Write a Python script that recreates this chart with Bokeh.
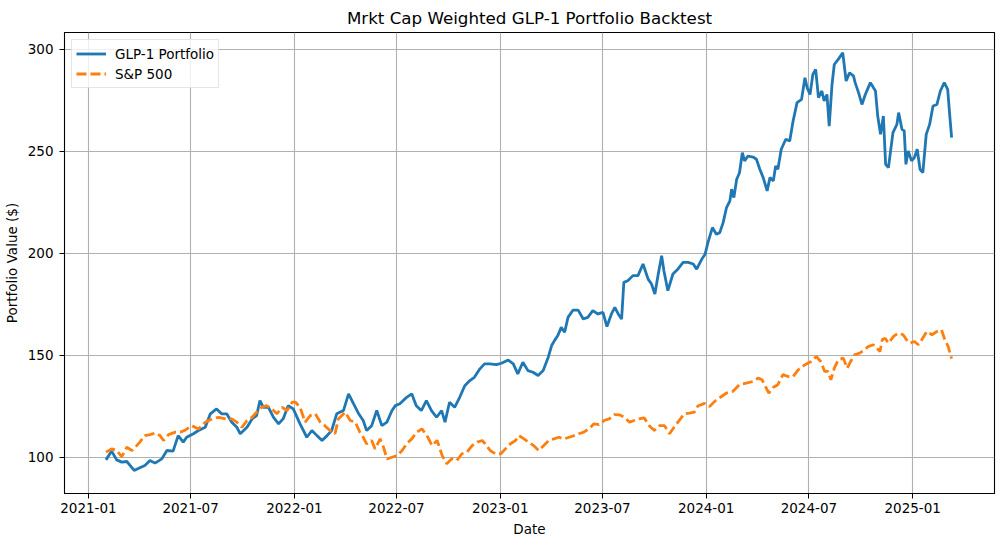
import pandas as pd
from bokeh.plotting import figure
from bokeh.models import Range1d, FixedTicker, ColumnDataSource
from bokeh.embed import file_html
from bokeh.resources import INLINE

# ---------------- data ----------------
glp1_dates = [
    "2021-02-01", "2021-02-11", "2021-02-20", "2021-03-01", "2021-03-10", "2021-03-16", "2021-03-23",
    "2021-04-02", "2021-04-11", "2021-04-20", "2021-04-29", "2021-05-11", "2021-05-20", "2021-05-31",
    "2021-06-09", "2021-06-18", "2021-06-24", "2021-07-06", "2021-07-15", "2021-07-27", "2021-08-05",
    "2021-08-16", "2021-08-25", "2021-09-03", "2021-09-12", "2021-09-21", "2021-09-27", "2021-10-09",
    "2021-10-18", "2021-10-26", "2021-11-01", "2021-11-07", "2021-11-16", "2021-11-25", "2021-12-04",
    "2021-12-12", "2021-12-21", "2021-12-30",
    "2022-01-11", "2022-01-23", "2022-02-01", "2022-02-10", "2022-02-19", "2022-02-28", "2022-03-08",
    "2022-03-17", "2022-03-29", "2022-04-07", "2022-04-16", "2022-04-25", "2022-05-03", "2022-05-09",
    "2022-05-18", "2022-05-27", "2022-06-05", "2022-06-14", "2022-06-23", "2022-06-29", "2022-07-07",
    "2022-07-19", "2022-07-28", "2022-08-05", "2022-08-14", "2022-08-23", "2022-09-01", "2022-09-10",
    "2022-09-19", "2022-09-25", "2022-10-03", "2022-10-12", "2022-10-21", "2022-10-30", "2022-11-08",
    "2022-11-16", "2022-11-25", "2022-12-04", "2022-12-13", "2022-12-25",
    "2023-01-03", "2023-01-15", "2023-01-24", "2023-02-01", "2023-02-10", "2023-02-19", "2023-02-28",
    "2023-03-09", "2023-03-18", "2023-03-27", "2023-04-02", "2023-04-07", "2023-04-13", "2023-04-19",
    "2023-04-25", "2023-05-01", "2023-05-10", "2023-05-19", "2023-05-28", "2023-06-05", "2023-06-14",
    "2023-06-23", "2023-07-02", "2023-07-09", "2023-07-17", "2023-07-23", "2023-07-29", "2023-08-04",
    "2023-08-08", "2023-08-15", "2023-08-24", "2023-09-02", "2023-09-11", "2023-09-20", "2023-09-26",
    "2023-10-02", "2023-10-08", "2023-10-14", "2023-10-18", "2023-10-25", "2023-11-03", "2023-11-12",
    "2023-11-21", "2023-11-30", "2023-12-09", "2023-12-15", "2023-12-24", "2023-12-30",
    "2024-01-04", "2024-01-12", "2024-01-19", "2024-01-25", "2024-01-31", "2024-02-06", "2024-02-12",
    "2024-02-15", "2024-02-19", "2024-02-24", "2024-02-29", "2024-03-05", "2024-03-09", "2024-03-15",
    "2024-03-24", "2024-03-30", "2024-04-05", "2024-04-11", "2024-04-18", "2024-04-23", "2024-04-29",
    "2024-05-03", "2024-05-07", "2024-05-13", "2024-05-21", "2024-05-28", "2024-06-03", "2024-06-10",
    "2024-06-18", "2024-06-24", "2024-06-28", "2024-07-03", "2024-07-08", "2024-07-13", "2024-07-18",
    "2024-07-24", "2024-07-28", "2024-08-02", "2024-08-06", "2024-08-11", "2024-08-15", "2024-08-22",
    "2024-08-30", "2024-09-05", "2024-09-11", "2024-09-18", "2024-09-21", "2024-09-27", "2024-10-03",
    "2024-10-09", "2024-10-18", "2024-10-27", "2024-10-31", "2024-11-05", "2024-11-10", "2024-11-14",
    "2024-11-19", "2024-11-27", "2024-12-04", "2024-12-07", "2024-12-13", "2024-12-17", "2024-12-20",
    "2024-12-24", "2024-12-30",
    "2025-01-04", "2025-01-09", "2025-01-14", "2025-01-19", "2025-01-25", "2025-01-31", "2025-02-06",
    "2025-02-13", "2025-02-19", "2025-02-26", "2025-03-04", "2025-03-08", "2025-03-11",
]
glp1_values = [
    98.6, 102.9, 98.6, 97.5, 97.8, 95.8, 93.4,
    94.7, 95.8, 98.3, 97.0, 99.1, 103.2, 102.9,
    110.5, 107.3, 109.7, 111.4, 113.0, 114.6, 121.2,
    123.6, 121.2, 121.2, 117.1, 114.6, 111.4, 114.6,
    118.7, 120.3, 127.7, 124.4, 124.4, 119.5, 116.3,
    118.7, 125.2, 123.6,
    116.3, 109.7, 113.0, 110.5, 108.1, 110.5, 113.0,
    121.2, 122.8, 131.0, 126.1, 121.2, 117.9, 113.0,
    115.4, 122.8, 115.4, 117.1, 122.8, 125.2, 126.1,
    129.3, 131.0, 125.2, 122.8, 127.7, 122.8, 119.5,
    122.8, 117.1, 126.9, 124.4, 129.3, 135.0, 137.5,
    139.1, 143.0, 145.7, 145.7, 145.3,
    146.0, 147.6, 145.7, 140.8, 146.5, 142.4, 141.6,
    140.0, 142.4, 149.0, 154.7, 157.1, 159.6, 163.6,
    161.2, 168.5, 172.1, 172.1, 167.7, 168.5, 171.8,
    170.2, 171.0, 164.0, 170.2, 173.4, 170.2, 167.7,
    185.7, 186.5, 189.0, 189.0, 194.7, 187.3, 184.9,
    180.0, 189.8, 198.8, 191.4, 181.6, 189.8, 192.3,
    195.5, 195.5, 194.7, 192.2, 197.0, 199.5,
    205.2, 212.6, 209.3, 210.1, 215.0, 222.4, 225.7,
    231.4, 227.3, 236.3, 239.5, 249.3, 245.3, 247.7,
    247.2, 246.1, 241.2, 237.1, 230.6, 237.1, 235.5,
    242.8, 241.2, 251.0, 255.9, 255.1, 264.9, 273.9,
    275.5, 286.1, 281.2, 277.9, 287.7, 290.2, 276.3,
    279.6, 274.7, 277.9, 262.4, 282.8, 292.6, 295.1,
    298.4, 284.5, 288.5, 287.0, 283.7, 278.8, 273.0,
    277.9, 283.7, 279.6, 267.3, 258.3, 267.3, 243.6,
    242.0, 259.2, 263.2, 269.0, 260.8, 260.0, 243.6,
    250.2, 245.3,
    246.9, 251.0, 241.2, 239.5, 258.3, 263.2, 272.2,
    273.0, 279.6, 283.7, 280.4, 266.5, 256.7,
]

spx_dates = [
    "2021-02-01", "2021-02-11", "2021-02-20", "2021-03-01", "2021-03-10", "2021-03-19", "2021-03-25",
    "2021-04-02", "2021-04-11", "2021-04-20", "2021-04-29", "2021-05-08", "2021-05-14", "2021-05-23",
    "2021-06-04", "2021-06-13", "2021-06-22", "2021-07-03", "2021-07-15", "2021-07-27", "2021-08-08",
    "2021-08-20", "2021-09-01", "2021-09-12", "2021-09-21", "2021-09-30", "2021-10-09", "2021-10-18",
    "2021-10-26", "2021-11-04", "2021-11-13", "2021-11-22", "2021-12-01", "2021-12-10", "2021-12-19",
    "2021-12-28",
    "2022-01-03", "2022-01-11", "2022-01-20", "2022-01-29", "2022-02-07", "2022-02-16", "2022-02-24",
    "2022-03-05", "2022-03-14", "2022-03-20", "2022-04-01", "2022-04-10", "2022-04-19", "2022-04-27",
    "2022-05-03", "2022-05-09", "2022-05-18", "2022-05-24", "2022-06-02", "2022-06-08", "2022-06-14",
    "2022-06-23", "2022-07-02", "2022-07-11", "2022-07-19", "2022-07-28", "2022-08-06", "2022-08-15",
    "2022-08-24", "2022-09-02", "2022-09-11", "2022-09-20", "2022-09-28", "2022-10-07", "2022-10-16",
    "2022-10-25", "2022-11-03", "2022-11-12", "2022-11-21", "2022-11-30", "2022-12-05", "2022-12-14",
    "2022-12-23",
    "2023-01-02", "2023-01-10", "2023-01-19", "2023-01-28", "2023-02-03", "2023-02-12", "2023-02-20",
    "2023-03-01", "2023-03-10", "2023-03-19", "2023-03-28", "2023-04-06", "2023-04-15", "2023-04-24",
    "2023-05-03", "2023-05-12", "2023-05-20", "2023-05-29", "2023-06-07", "2023-06-16", "2023-06-25",
    "2023-07-04", "2023-07-13", "2023-07-22", "2023-07-31", "2023-08-09", "2023-08-18", "2023-08-26",
    "2023-09-04", "2023-09-13", "2023-09-22", "2023-10-01", "2023-10-10", "2023-10-19", "2023-10-28",
    "2023-11-05", "2023-11-14", "2023-11-23", "2023-12-02", "2023-12-11", "2023-12-17", "2023-12-29",
    "2024-01-07", "2024-01-16", "2024-01-28", "2024-02-06", "2024-02-17", "2024-02-29", "2024-03-12",
    "2024-03-24", "2024-04-02", "2024-04-09", "2024-04-15", "2024-04-21", "2024-04-29", "2024-05-07",
    "2024-05-16", "2024-05-25", "2024-06-03", "2024-06-12", "2024-06-24", "2024-07-05", "2024-07-14",
    "2024-07-22", "2024-07-29", "2024-08-04", "2024-08-09", "2024-08-15", "2024-08-22", "2024-08-31",
    "2024-09-07", "2024-09-13", "2024-09-20", "2024-09-29", "2024-10-08", "2024-10-14", "2024-10-23",
    "2024-10-29", "2024-11-04", "2024-11-08", "2024-11-13", "2024-11-19", "2024-11-28", "2024-12-06",
    "2024-12-15", "2024-12-21", "2024-12-27",
    "2025-01-04", "2025-01-11", "2025-01-17", "2025-01-26", "2025-02-04", "2025-02-13", "2025-02-21",
    "2025-02-27", "2025-03-05", "2025-03-08", "2025-03-11",
]
spx_values = [
    102.4, 104.0, 103.2, 100.2, 104.8, 103.2, 104.8,
    107.3, 110.5, 111.0, 111.7, 110.5, 108.1, 111.0,
    112.2, 112.2, 113.3, 115.4, 113.8, 117.1, 118.7,
    119.5, 118.7, 118.7, 117.1, 114.6, 117.9, 119.5,
    122.0, 124.4, 125.2, 123.6, 121.2, 124.4, 122.8,
    126.9,
    126.9, 124.4, 117.1, 120.3, 121.2, 117.1, 115.4,
    113.0, 111.4, 118.7, 122.0, 117.9, 117.1, 112.2,
    109.7, 106.5, 108.1, 104.0, 108.9, 104.8, 99.1,
    99.9, 100.7, 103.2, 106.5, 108.9, 112.2, 113.8,
    110.5, 105.6, 108.1, 100.7, 96.7, 99.1, 98.3,
    101.6, 102.4, 105.6, 107.3, 108.1, 106.5, 103.2,
    101.6,
    101.6, 104.0, 106.5, 108.1, 110.5, 108.9, 107.3,
    105.6, 103.2, 105.6, 108.1, 108.9, 109.7, 108.9,
    109.7, 110.5, 111.4, 112.2, 113.8, 116.3, 115.9,
    117.9, 118.7, 120.8, 120.7, 119.5, 117.1, 117.9,
    118.7, 119.2, 115.4, 113.0, 115.4, 115.4, 111.4,
    114.6, 117.9, 121.2, 121.5, 122.0, 125.0, 126.3,
    124.8, 127.3, 129.7, 131.4, 132.2, 135.5, 136.3,
    137.1, 138.7, 137.9, 134.6, 131.4, 134.2, 135.5,
    140.4, 139.5, 139.5, 142.8, 145.3, 146.9, 149.3,
    146.9, 142.0, 142.0, 137.9, 143.6, 147.7, 148.5,
    143.6, 146.9, 150.2, 151.0, 152.6, 154.2, 155.1,
    153.4, 151.8, 157.5, 158.3, 155.9, 159.2, 160.8,
    160.0, 157.5, 155.9,
    156.7, 155.1, 157.5, 161.6, 160.0, 161.6, 162.4,
    157.5, 154.2, 151.0, 148.3,
]

x_tick_dates = ["2021-01-01", "2021-07-01", "2022-01-01", "2022-07-01", "2023-01-01",
                "2023-07-01", "2024-01-01", "2024-07-01", "2025-01-01"]
x_tick_labels = ["2021-01", "2021-07", "2022-01", "2022-07", "2023-01",
                 "2023-07", "2024-01", "2024-07", "2025-01"]
y_ticks = [100, 150, 200, 250, 300]

title_text = "Mrkt Cap Weighted GLP-1 Portfolio Backtest"
series1_name = "GLP-1 Portfolio"
series2_name = "S&P 500"
x_label = "Date"
y_label = "Portfolio Value ($)"

# ---------------- figure ----------------
FONT = "DejaVu Sans"

p = figure(
    width=996, height=539,
    x_axis_type="datetime",
    x_range=Range1d(pd.Timestamp("2020-11-19 12:00"), pd.Timestamp("2025-05-26")),
    y_range=Range1d(82.1, 308.3),
    output_backend="svg", toolbar_location=None,
    min_border_left=64, min_border_right=2, min_border_top=31, min_border_bottom=46,
    title=title_text,
)

src1 = ColumnDataSource(dict(x=pd.to_datetime(glp1_dates), y=glp1_values))
src2 = ColumnDataSource(dict(x=pd.to_datetime(spx_dates), y=spx_values))

p.line("x", "y", source=src1, line_color="#1f77b4", line_width=2.8,
       legend_label=series1_name)
p.line("x", "y", source=src2, line_color="#ff7f0e", line_width=2.8,
       line_dash="10 4", legend_label=series2_name)

# title
p.title.align = "center"
p.title.text_font = FONT
p.title.text_font_size = "16.7px"
p.title.text_font_style = "normal"
p.title.text_color = "black"
p.title.standoff = 10

# ticks
tick_ms = [float(pd.Timestamp(d).value // 10**6) for d in x_tick_dates]
p.xaxis.ticker = FixedTicker(ticks=tick_ms)
p.xaxis.major_label_overrides = {t: lab for t, lab in zip(tick_ms, x_tick_labels)}
p.yaxis.ticker = FixedTicker(ticks=y_ticks)

for ax in (p.xaxis, p.yaxis):
    ax.major_label_text_font = FONT
    ax.major_label_text_font_size = "13.5px"
    ax.major_label_text_color = "black"
    ax.axis_label_text_font = FONT
    ax.axis_label_text_font_size = "13.5px"
    ax.axis_label_text_font_style = "normal"
    ax.axis_label_text_color = "black"
    ax.major_tick_in = 0
    ax.major_tick_out = 5
    ax.minor_tick_in = 0
    ax.minor_tick_out = 0
    ax.axis_line_color = "black"
    ax.major_tick_line_color = "black"

p.xaxis.axis_label = x_label
p.yaxis.axis_label = y_label
p.xaxis.major_label_standoff = 4
p.yaxis.major_label_standoff = 6
p.xaxis.axis_label_standoff = 5
p.yaxis.axis_label_standoff = 5

p.grid.grid_line_color = "#b0b0b0"
p.grid.grid_line_width = 1.1
p.outline_line_color = "black"
p.outline_line_width = 1.1
p.background_fill_color = "white"
p.border_fill_color = "white"

# legend
lg = p.legend[0]
lg.location = "top_left"
lg.margin = 7
lg.padding = 4
lg.spacing = 1
lg.glyph_width = 30
lg.glyph_height = 19
lg.label_height = 19
lg.label_standoff = 9
lg.label_text_font = FONT
lg.label_text_font_size = "13.5px"
lg.label_text_color = "black"
lg.border_line_color = "#cccccc"
lg.border_line_width = 1
lg.background_fill_color = "white"
lg.background_fill_alpha = 0.8

open("out.html", "w").write(file_html(p, INLINE))
